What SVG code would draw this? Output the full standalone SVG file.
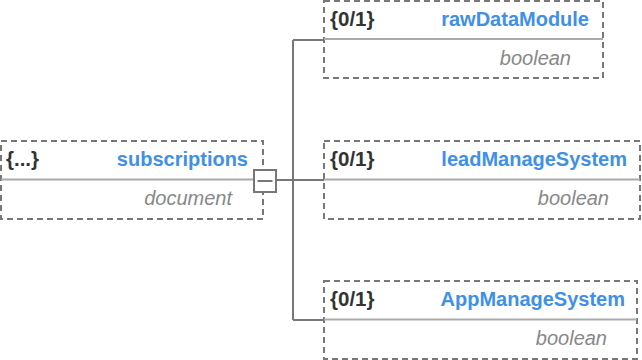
<svg xmlns="http://www.w3.org/2000/svg" width="642" height="360" viewBox="0 0 642 360">
  <style>
    .box { fill: #ffffff; stroke: #777777; stroke-width: 2; stroke-dasharray: 6 4; }
    .divider { stroke: #aaaaaa; stroke-width: 2; }
    .conn { stroke: #777777; stroke-width: 2; fill: none; }
    .occ { font-family: "Liberation Sans", Arial, sans-serif; font-size: 20.5px; font-weight: bold; fill: #333333; }
    .name { font-family: "Liberation Sans", Arial, sans-serif; font-size: 20px; font-weight: bold; fill: #4090e8; text-anchor: end; }
    .type { font-family: "Liberation Sans", Arial, sans-serif; font-size: 20px; font-style: italic; fill: #888888; text-anchor: end; }
  </style>

  <!-- connectors from the parent element to its children -->
  <g id="connectors">
    <path class="conn" d="M276 180 H293 M293 40 V320 M293 40 H324 M293 180 H324 M293 320 H324"/>
  </g>

  <g id="node-subscriptions">
    <rect class="box" x="1" y="141" width="262" height="78"/>
    <line class="divider" x1="1" y1="179.5" x2="263" y2="179.5"/>
    <text class="occ" x="6" y="166">{...}</text>
    <text class="name" x="248" y="166">subscriptions</text>
    <text class="type" x="232" y="205">document</text>
    <!-- collapse toggle -->
    <rect x="254" y="170" width="22" height="22" fill="#ffffff" stroke="#777777" stroke-width="2"/>
    <line x1="257.5" y1="181" x2="272.5" y2="181" stroke="#777777" stroke-width="2"/>
  </g>

  <g id="node-rawDataModule">
    <rect class="box" x="324" y="1" width="279" height="77"/>
    <line class="divider" x1="324" y1="39" x2="603" y2="39"/>
    <text class="occ" x="330" y="26">{0/1}</text>
    <text class="name" x="589" y="26">rawDataModule</text>
    <text class="type" x="571" y="65">boolean</text>
  </g>

  <g id="node-leadManageSystem">
    <rect class="box" x="324" y="141" width="316" height="78"/>
    <line class="divider" x1="324" y1="179.5" x2="640" y2="179.5"/>
    <text class="occ" x="330" y="166">{0/1}</text>
    <text class="name" x="627" y="166">leadManageSystem</text>
    <text class="type" x="609" y="205">boolean</text>
  </g>

  <g id="node-AppManageSystem">
    <rect class="box" x="324" y="281" width="313" height="78"/>
    <line class="divider" x1="324" y1="319.5" x2="637" y2="319.5"/>
    <text class="occ" x="330" y="306">{0/1}</text>
    <text class="name" x="625" y="306">AppManageSystem</text>
    <text class="type" x="607" y="345">boolean</text>
  </g>
</svg>
